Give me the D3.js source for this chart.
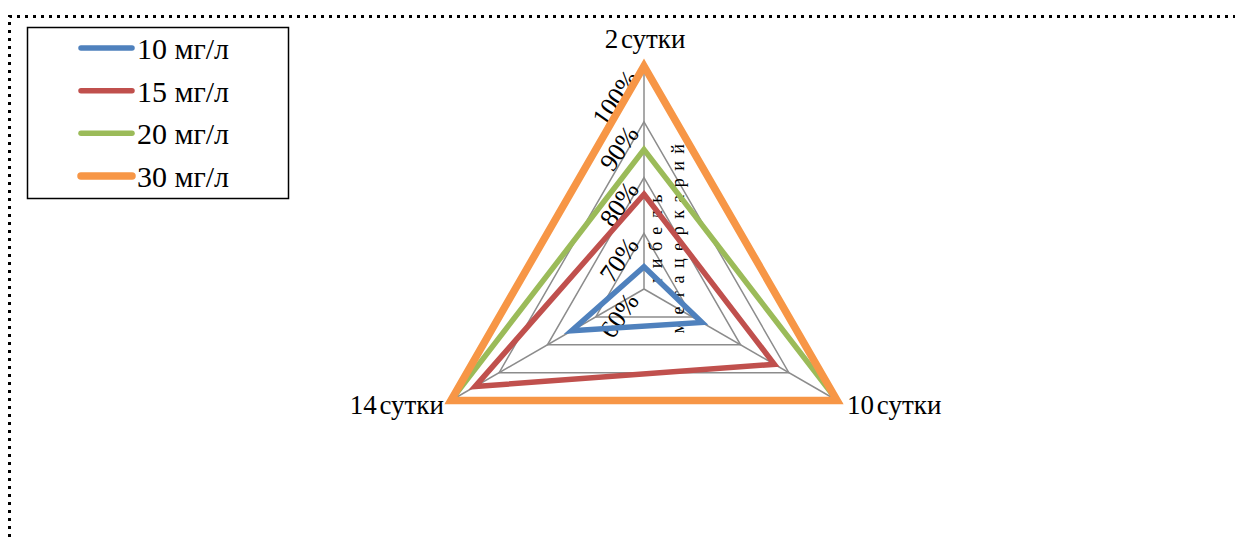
<!DOCTYPE html>
<html>
<head>
<meta charset="utf-8">
<script src="https://cdn.jsdelivr.net/npm/d3@7"></script>
<style>
  body { margin: 0; background: #fff; }
  svg { display: block; }
</style>
</head>
<body>
<svg id="chart" width="1235" height="541" font-family="'Liberation Serif', 'Times New Roman', 'DejaVu Serif', serif"></svg>
<script>
// data
const categories = ['2 сутки', '10 сутки', '14 сутки'];
const seriesNames = ['10 мг/л', '15 мг/л', '20 мг/л', '30 мг/л'];
const values10 = [0.64, 0.72, 0.75];
const values15 = [0.77, 0.87, 0.95];
const values20 = [0.85, 1.00, 1.00];
const values30 = [1.00, 1.00, 1.00];
const tickValues = [0.6, 0.7, 0.8, 0.9, 1.0];
const tickLabels = ['60%', '70%', '80%', '90%', '100%'];
const axisTitle = ['гибель', 'метацеркарий'];

const seriesColors = ['#4F81BD', '#C0504D', '#9BBB59', '#F79646'];
const seriesWidths = [5.5, 5.5, 5.5, 7.5];

const allSeries = [values10, values15, values20, values30];

const serif = "'Liberation Serif', 'Times New Roman', 'DejaVu Serif', serif";
const svg = d3.select('#chart');
const cx = 644, cy = 289, R = 223;

// outer dotted frame (only top and left visible)
svg.append('path')
    .attr('d', 'M9.5,545 V16.5 H1240')
    .attr('fill', 'none')
    .attr('stroke', '#000')
    .attr('stroke-width', 3)
    .attr('stroke-dasharray', '3,5');

const r = d3.scaleLinear().domain([0.6, 1.0]).range([0, R]);
const angle = d3.scaleLinear().domain([0, categories.length]).range([0, 2 * Math.PI]);

const pt = (i, v) => {
    const a = angle(i);
    return [cx + r(v) * Math.sin(a), cy - r(v) * Math.cos(a)];
};

const g = svg.append('g');

// grid rings
g.selectAll('path.ring')
  .data(tickValues.slice(1))
  .enter().append('path')
    .attr('class', 'ring')
    .attr('fill', 'none')
    .attr('stroke', '#8c8c8c')
    .attr('stroke-width', 1.5)
    .attr('d', v => d3.line()(categories.map((c, i) => pt(i, v))) + 'Z');

// spokes
g.selectAll('line.spoke')
  .data(categories)
  .enter().append('line')
    .attr('class', 'spoke')
    .attr('stroke', '#8c8c8c')
    .attr('stroke-width', 1.5)
    .attr('x1', cx).attr('y1', cy)
    .attr('x2', (d, i) => pt(i, 1)[0])
    .attr('y2', (d, i) => pt(i, 1)[1]);

// axis title, two rotated lines
g.selectAll('text.atitle')
  .data(axisTitle)
  .enter().append('text')
    .attr('class', 'atitle')
    .attr('text-anchor', 'middle')
    .attr('font-family', serif)
    .style('font-size', '18px')
    .style('letter-spacing', '7.5px')
    .attr('transform', (d, i) => 'translate(' + [cx + 18 + i * 22, 235] + ')rotate(-90)')
    .text(d => d);

// tick labels
g.selectAll('text.tick')
  .data(tickValues)
  .enter().append('text')
    .attr('class', 'tick')
    .attr('text-anchor', 'end')
    .attr('font-family', serif)
    .style('font-size', '26px')
    .attr('transform', v => 'translate(' + [cx - 4, cy - r(v) + 12] + ')rotate(-55)')
    .text((v, i) => tickLabels[i]);

// series
allSeries.forEach((vals, s) => {
    g.append('path')
        .attr('fill', 'none')
        .attr('stroke', seriesColors[s])
        .attr('stroke-width', seriesWidths[s])
        .attr('stroke-linejoin', 'miter')
        .attr('d', d3.line()(vals.map((v, i) => pt(i, v))) + 'Z');
});

// category labels
g.selectAll('text.cat')
  .data(categories)
  .enter().append('text')
    .attr('class', 'cat')
    .attr('font-family', serif)
    .style('font-size', '27px')
    .style('word-spacing', '-4px')
    .attr('text-anchor', (d, i) => i === 0 ? 'middle' : (i === 1 ? 'start' : 'end'))
    .attr('x', (d, i) => {
        const p = pt(i, 1);
        return i === 0 ? p[0] + 1 : (i === 1 ? p[0] + 10 : p[0] - 7);
    })
    .attr('y', (d, i) => {
        const p = pt(i, 1);
        return i === 0 ? p[1] - 18 : p[1] + 13;
    })
    .text(d => d);

// legend
const legend = svg.append('g');
legend.append('rect')
    .attr('x', 27.5).attr('y', 27.5)
    .attr('width', 261).attr('height', 171)
    .attr('fill', '#fff')
    .attr('stroke', '#000')
    .attr('stroke-width', 1.5);

const rowY = d3.scalePoint().domain(seriesNames).range([48, 176]);
const items = legend.selectAll('g.item')
  .data(seriesNames)
  .enter().append('g')
    .attr('class', 'item')
    .attr('transform', d => 'translate(0,' + rowY(d) + ')');
items.append('line')
    .attr('x1', 81).attr('x2', 132)
    .attr('stroke', (d, i) => seriesColors[i])
    .attr('stroke-width', (d, i) => seriesWidths[i])
    .attr('stroke-linecap', 'round');
items.append('text')
    .attr('x', 137)
    .attr('y', 11)
    .attr('font-family', serif)
    .style('font-size', '30px')
    .text(d => d);
</script>
</body>
</html>
